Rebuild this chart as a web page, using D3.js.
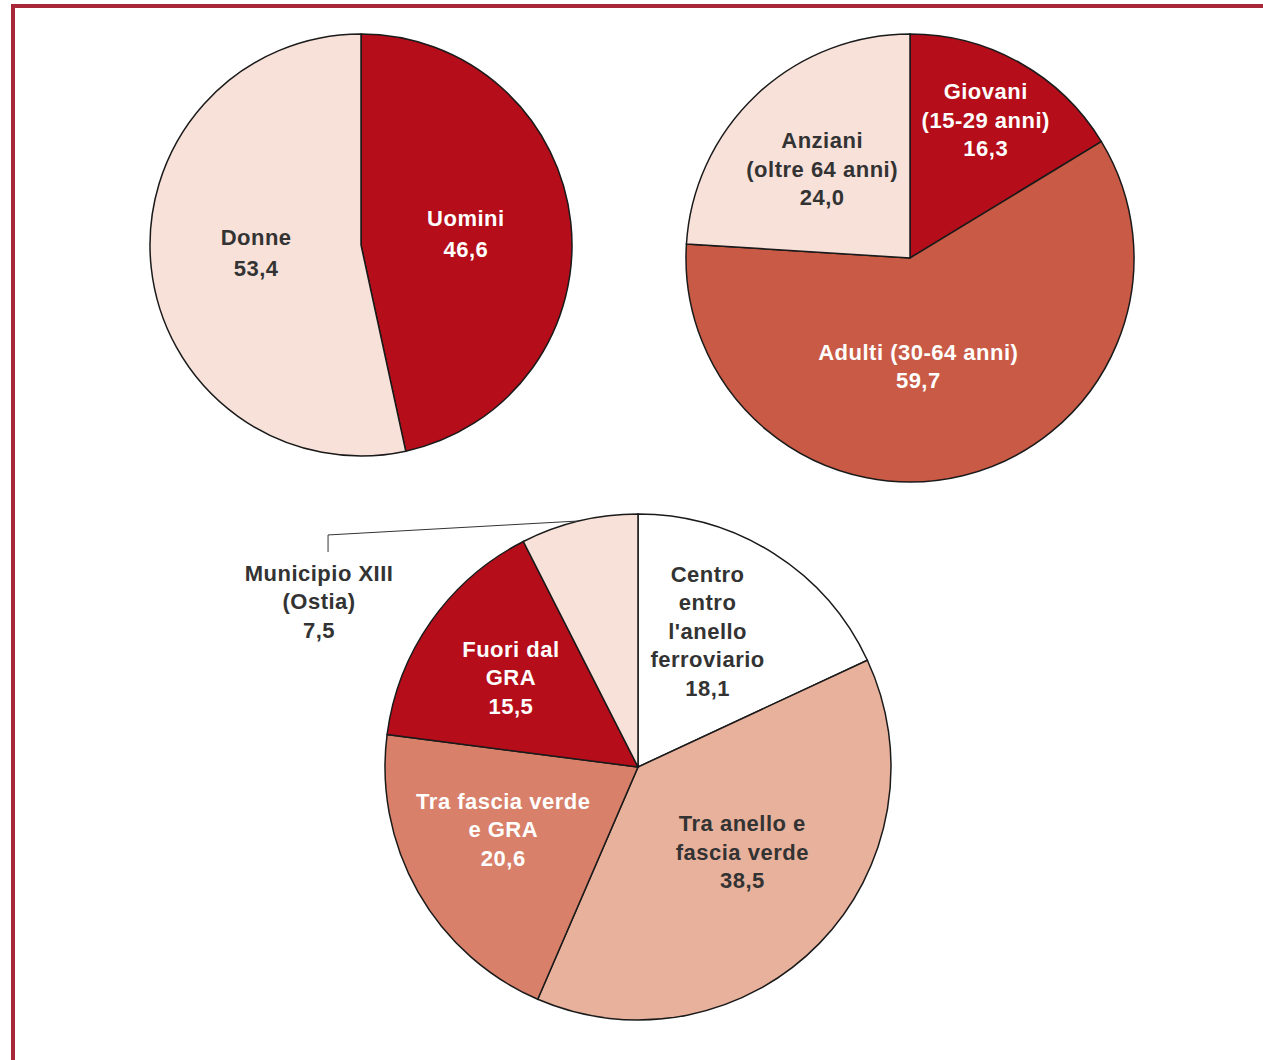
<!DOCTYPE html>
<html>
<head>
<meta charset="utf-8">
<script src="https://cdn.jsdelivr.net/npm/d3@7"></script>
<style>
  body { margin: 0; background: #fff; }
  svg text { font-family: "Liberation Sans", Arial, sans-serif; font-weight: bold; font-size: 22px; letter-spacing: 0.5px; }
</style>
</head>
<body>
<div class="chart"></div>
<script>
// data for the three pies
var sexLabels = [["Uomini"], ["Donne"]];
var sexValues = [46.6, 53.4];

var ageLabels = [["Giovani", "(15-29 anni)"], ["Adulti (30-64 anni)"], ["Anziani", "(oltre 64 anni)"]];
var ageValues = [16.3, 59.7, 24.0];

var zoneLabels = [["Centro", "entro", "l'anello", "ferroviario"], ["Tra anello e", "fascia verde"],
                  ["Tra fascia verde", "e GRA"], ["Fuori dal", "GRA"], ["Municipio XIII", "(Ostia)"]];
var zoneValues = [18.1, 38.5, 20.6, 15.5, 7.5];

var svgWidth = 1263, svgHeight = 1060;

var svg = d3.select(".chart")
  .append("svg")
  .attr("width", svgWidth)
  .attr("height", svgHeight);

// red frame
svg.append("path")
  .attr("d", "M13,1060 L13,6 L1263,6")
  .attr("fill", "none")
  .attr("stroke", "#a8283a")
  .attr("stroke-width", 4);

var fmt = function(v) { return v.toFixed(1).replace(".", ","); };

// draw one pie
function drawPie(cfg) {
  var g = svg.append("g")
    .attr("transform", `translate(${cfg.cx}, ${cfg.cy})`);

  var pie = d3.pie().sort(null).value(d => d);
  var arcs = pie(cfg.values);
  var arc = d3.arc().innerRadius(0).outerRadius(cfg.r);

  g.selectAll("path.slice")
    .data(arcs)
    .enter()
    .append("path")
    .attr("class", "slice")
    .attr("d", arc)
    .attr("fill", (d, i) => cfg.colors[i])
    .attr("stroke", "#1a1a1a")
    .attr("stroke-width", 1.5);

  arcs.forEach(function(d, i) {
    var lines = cfg.labels[i].concat([fmt(cfg.values[i])]);
    var nudge = cfg.nudge ? cfg.nudge[i] : [0, 0];
    var pos;
    if (cfg.outside && cfg.outside[i]) {
      // label outside with leader line
      var o = cfg.outside[i];
      var start = d3.arc().innerRadius(cfg.r).outerRadius(cfg.r).centroid(d);
      var ex = start[0] + o.dx, ey = start[1] + o.dy;
      g.append("polyline")
        .attr("points", [[start[0], start[1]], [ex, ey], [ex, ey + o.drop]].join(" "))
        .attr("fill", "none")
        .attr("stroke", "#333")
        .attr("stroke-width", 1);
      pos = [ex - 9 + nudge[0], ey + o.drop + 21 + nudge[1]];
    } else {
      var k = cfg.labelR[i] * cfg.r;
      pos = d3.arc().innerRadius(k).outerRadius(k).centroid(d);
      pos = [pos[0] + nudge[0], pos[1] + nudge[1]];
      pos[1] -= (lines.length - 1) * cfg.lh / 2;
    }
    var t = g.append("text")
      .attr("text-anchor", "middle")
      .attr("fill", cfg.textColors[i]);
    lines.forEach(function(line, j) {
      t.append("tspan")
        .attr("x", pos[0])
        .attr("y", pos[1] + j * cfg.lh)
        .attr("dy", "0.35em")
        .text(line);
    });
  });
}

drawPie({
  cx: 361, cy: 245, r: 211, lh: 31,
  values: sexValues, labels: sexLabels,
  colors: ["#b50d1a", "#f7e1d9"],
  textColors: ["#fff", "#333"],
  labelR: [0.5, 0.5],
  nudge: [[0, 0], [0, -3]]
});

drawPie({
  cx: 910, cy: 258, r: 224, lh: 28.5,
  values: ageValues, labels: ageLabels,
  colors: ["#b50d1a", "#c95a45", "#f7e1d9"],
  textColors: ["#fff", "#fff", "#333"],
  labelR: [0.69, 0.49, 0.56],
  nudge: [[0, -3], [-18, 1.5], [-2, 2.5]]
});

drawPie({
  cx: 638, cy: 767, r: 253, lh: 28.5,
  values: zoneValues, labels: zoneLabels,
  colors: ["#ffffff", "#e8b19c", "#d8806a", "#b50d1a", "#f7e1d9"],
  textColors: ["#333", "#333", "#fff", "#fff", "#333"],
  labelR: [0.6, 0.52, 0.59, 0.615, 0.5],
  nudge: [[-12, -8], [10, -6.5], [-5, -11.5], [0, 0], [0, 0]],
  outside: [null, null, null, null, {dx: -251, dy: 14, drop: 17}]
});
</script>
</body>
</html>
